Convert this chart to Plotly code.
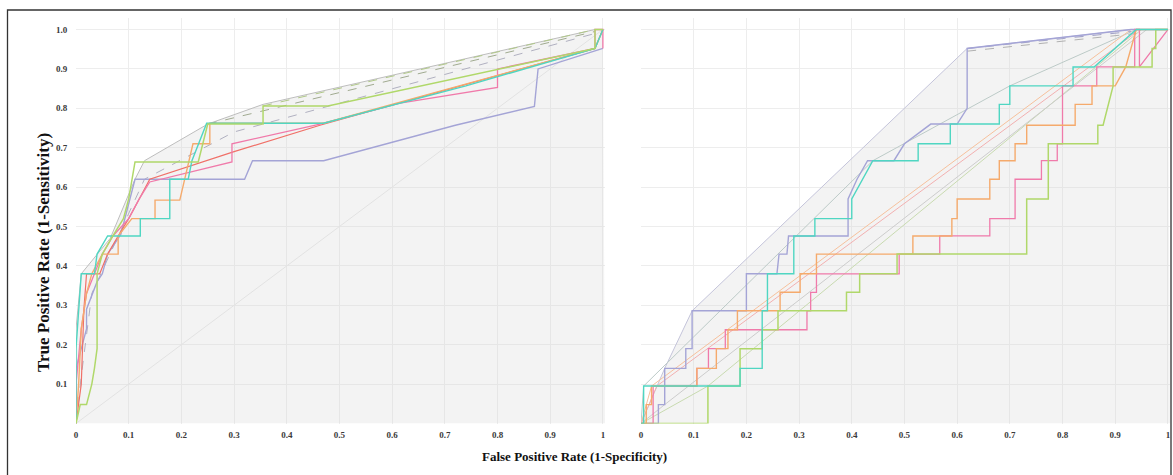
import plotly.graph_objects as go

W, H = 1173, 475

# ---------------- tick labels ----------------
x_ticks = [0, 0.1, 0.2, 0.3, 0.4, 0.5, 0.6, 0.7, 0.8, 0.9, 1.0]
x_tick_text = ["0", "0.1", "0.2", "0.3", "0.4", "0.5", "0.6", "0.7", "0.8", "0.9", "1"]
y_ticks = [0.1, 0.2, 0.3, 0.4, 0.5, 0.6, 0.7, 0.8, 0.9, 1.0]
y_tick_text = ["0.1", "0.2", "0.3", "0.4", "0.5", "0.6", "0.7", "0.8", "0.9", "1.0"]

# ---------------- left panel (FPR, TPR) ----------------
L_lavender_x = [0, 0, 0.02, 0.02, 0.04, 0.05, 0.06, 0.085, 0.112, 0.32, 0.335, 0.47, 0.72, 0.87, 0.877, 1.0]
L_lavender_y = [0, 0.14, 0.24, 0.29, 0.36, 0.38, 0.43, 0.48, 0.62, 0.62, 0.667, 0.667, 0.757, 0.805, 0.9, 0.952]

L_teal_x = [0, 0, 0.01, 0.035, 0.04, 0.06, 0.122, 0.122, 0.178, 0.178, 0.213, 0.22, 0.248, 0.47, 0.74, 0.985, 1.0]
L_teal_y = [0, 0.19, 0.38, 0.38, 0.43, 0.476, 0.476, 0.52, 0.52, 0.62, 0.62, 0.667, 0.762, 0.762, 0.857, 0.952, 1.0]

L_orange_x = [0, 0.005, 0.01, 0.02, 0.03, 0.05, 0.08, 0.08, 0.106, 0.15, 0.15, 0.197, 0.222, 0.254, 0.254, 0.47, 0.985, 1.0]
L_orange_y = [0, 0.1, 0.24, 0.33, 0.38, 0.43, 0.43, 0.476, 0.52, 0.52, 0.567, 0.567, 0.71, 0.71, 0.762, 0.762, 0.952, 1.0]

L_pink_x = [0, 0, 0.01, 0.02, 0.035, 0.05, 0.07, 0.1, 0.12, 0.14, 0.296, 0.296, 0.463, 0.615, 0.8, 0.8, 0.985, 0.985, 1.0, 1.0]
L_pink_y = [0, 0.1, 0.24, 0.33, 0.38, 0.43, 0.476, 0.52, 0.57, 0.613, 0.664, 0.71, 0.76, 0.813, 0.853, 0.9, 0.952, 1.0, 1.0, 0.952]

L_red_x = [0, 0.01, 0.015, 0.02, 0.045, 0.06, 0.08, 0.1, 0.12, 0.14, 0.3, 0.463, 0.985, 1.0]
L_red_y = [0, 0.1, 0.29, 0.38, 0.38, 0.43, 0.476, 0.52, 0.57, 0.62, 0.69, 0.757, 0.952, 1.0]

L_lime_x = [0, 0.008, 0.02, 0.03, 0.035, 0.04, 0.04, 0.05, 0.07, 0.09, 0.1, 0.112, 0.232, 0.25, 0.355, 0.355, 0.478, 0.985, 0.985, 1.0]
L_lime_y = [0, 0.048, 0.048, 0.1, 0.14, 0.19, 0.38, 0.43, 0.476, 0.52, 0.57, 0.664, 0.664, 0.76, 0.76, 0.806, 0.806, 0.952, 1.0, 1.0]

L_hull_x = [0, 0, 0.01, 0.065, 0.112, 0.13, 0.25, 0.355, 0.985, 1.0]
L_hull_y = [0, 0.24, 0.38, 0.47, 0.62, 0.667, 0.76, 0.81, 1.0, 1.0]

L_dash1_x = [0.25, 0.985]
L_dash1_y = [0.76, 0.995]
L_dash2_x = [0.355, 0.985]
L_dash2_y = [0.806, 1.0]
L_dash3_x = [0, 0.01, 0.03, 0.13, 0.3, 0.985]
L_dash3_y = [0, 0.12, 0.33, 0.62, 0.74, 0.99]

L_diag_x = [0, 1]
L_diag_y = [0, 1]

# ---------------- right panel (FPR, TPR) ----------------
R_lavender_x = [0, 0.033, 0.033, 0.045, 0.045, 0.085, 0.085, 0.097, 0.097, 0.2, 0.2, 0.258, 0.262, 0.277, 0.28, 0.393, 0.393, 0.41, 0.43, 0.48, 0.5, 0.55, 0.6, 0.619, 0.619, 0.93, 1.0]
R_lavender_y = [0, 0, 0.048, 0.048, 0.14, 0.14, 0.19, 0.19, 0.286, 0.286, 0.38, 0.38, 0.43, 0.43, 0.476, 0.476, 0.57, 0.62, 0.667, 0.667, 0.71, 0.76, 0.76, 0.8, 0.952, 1.0, 1.0]

R_teal_x = [0, 0.005, 0.005, 0.188, 0.188, 0.23, 0.23, 0.24, 0.24, 0.29, 0.29, 0.33, 0.33, 0.4, 0.4, 0.42, 0.44, 0.526, 0.526, 0.587, 0.587, 0.68, 0.68, 0.7, 0.7, 0.82, 0.82, 0.86, 0.94, 1.0]
R_teal_y = [0, 0, 0.095, 0.095, 0.14, 0.14, 0.286, 0.286, 0.38, 0.38, 0.476, 0.476, 0.52, 0.52, 0.57, 0.62, 0.667, 0.667, 0.71, 0.71, 0.76, 0.76, 0.81, 0.81, 0.857, 0.857, 0.905, 0.905, 1.0, 1.0]

R_orange_x = [0, 0.01, 0.01, 0.02, 0.02, 0.106, 0.106, 0.143, 0.143, 0.165, 0.165, 0.183, 0.183, 0.264, 0.264, 0.302, 0.302, 0.333, 0.333, 0.516, 0.516, 0.59, 0.59, 0.6, 0.6, 0.662, 0.662, 0.68, 0.68, 0.71, 0.71, 0.732, 0.732, 0.824, 0.824, 0.856, 0.856, 0.9, 0.92, 0.94, 1.0]
R_orange_y = [0, 0, 0.048, 0.048, 0.095, 0.095, 0.14, 0.14, 0.19, 0.19, 0.238, 0.238, 0.286, 0.286, 0.333, 0.333, 0.38, 0.38, 0.43, 0.43, 0.476, 0.476, 0.52, 0.52, 0.57, 0.57, 0.62, 0.62, 0.667, 0.667, 0.71, 0.71, 0.757, 0.757, 0.81, 0.81, 0.857, 0.857, 0.905, 1.0, 1.0]

R_pink_x = [0, 0.023, 0.023, 0.106, 0.106, 0.128, 0.128, 0.16, 0.16, 0.23, 0.23, 0.315, 0.315, 0.322, 0.322, 0.333, 0.333, 0.365, 0.365, 0.49, 0.49, 0.567, 0.567, 0.662, 0.662, 0.71, 0.71, 0.76, 0.76, 0.79, 0.79, 0.8, 0.8, 0.865, 0.865, 0.937, 0.937, 0.946, 0.946, 1.0]
R_pink_y = [0, 0, 0.095, 0.095, 0.14, 0.14, 0.19, 0.19, 0.238, 0.238, 0.238, 0.238, 0.286, 0.286, 0.333, 0.333, 0.38, 0.38, 0.38, 0.38, 0.43, 0.43, 0.476, 0.476, 0.52, 0.52, 0.62, 0.62, 0.667, 0.667, 0.71, 0.71, 0.857, 0.857, 0.905, 0.905, 1.0, 1.0, 0.905, 1.0]

R_lime_x = [0, 0.127, 0.127, 0.188, 0.188, 0.23, 0.23, 0.26, 0.26, 0.39, 0.39, 0.415, 0.415, 0.486, 0.486, 0.732, 0.732, 0.773, 0.773, 0.867, 0.867, 0.877, 0.896, 0.896, 0.97, 0.97, 0.977, 0.977, 1.0]
R_lime_y = [0, 0, 0.095, 0.095, 0.19, 0.19, 0.238, 0.238, 0.286, 0.286, 0.333, 0.333, 0.38, 0.38, 0.43, 0.43, 0.57, 0.57, 0.71, 0.71, 0.757, 0.757, 0.857, 0.905, 0.905, 0.952, 0.952, 1.0, 1.0]

R_hull_lav_x = [0, 0.045, 0.097, 0.619, 0.93, 1.0]
R_hull_lav_y = [0, 0.14, 0.286, 0.952, 1.0, 1.0]
R_hull_teal_x = [0, 0.005, 0.44, 0.7, 0.94]
R_hull_teal_y = [0, 0.095, 0.667, 0.857, 1.0]
R_hull_orange_x = [0, 0.02, 0.93]
R_hull_orange_y = [0, 0.095, 1.0]
R_hull_pink_x = [0, 0.03, 0.937]
R_hull_pink_y = [0, 0.095, 0.99]
R_hull_lime_x = [0, 0.127, 0.95]
R_hull_lime_y = [0, 0.095, 1.0]
R_hull_grey_x = [0, 0.045, 0.96]
R_hull_grey_y = [0, 0.048, 1.0]
R_dash_x = [0.619, 0.93]
R_dash_y = [0.952, 0.995]
R_dash2_x = [0.619, 0.94]
R_dash2_y = [0.945, 0.99]

# ---------------- styling ----------------
C_LAV = "#a4a4d6"
C_TEAL = "#4fd6c2"
C_ORANGE = "#f5aa6c"
C_PINK = "#f07aaa"
C_RED = "#f07068"
C_LIME = "#b0d86a"
C_GREY = "#bdbdbd"
FILL = "rgba(215,215,215,0.3)"
SERIF = "Liberation Serif, Times New Roman, serif"

fig = go.Figure()


def add(x, y, color, width=1.4, dash="solid", axis="1", fill=None, fillcolor=None):
    xa = "x" if axis == "1" else "x2"
    ya = "y" if axis == "1" else "y2"
    fig.add_trace(go.Scatter(
        x=x, y=y, mode="lines", xaxis=xa, yaxis=ya,
        line=dict(color=color, width=width, dash=dash),
        fill=fill, fillcolor=fillcolor, hoverinfo="skip", showlegend=False,
    ))


# fills (area under outer envelope)
add(L_hull_x + [1.004, 0], L_hull_y + [0, 0], "rgba(0,0,0,0)", 0, axis="1", fill="toself", fillcolor=FILL)
add(R_hull_lav_x + [1.004, 0], R_hull_lav_y + [0, 0], "rgba(0,0,0,0)", 0, axis="2", fill="toself", fillcolor=FILL)

# left panel lines
add(L_diag_x, L_diag_y, "#e2e2e2", 1.0, axis="1")
add(L_hull_x, L_hull_y, C_GREY, 1.0, axis="1")
add(L_dash3_x, L_dash3_y, "#b0b0c0", 1.0, dash="dash", axis="1")
add(L_dash1_x, L_dash1_y, "#a0aa90", 1.0, dash="dash", axis="1")
add(L_dash2_x, L_dash2_y, "#b0c888", 1.0, dash="dash", axis="1")
add(L_lavender_x, L_lavender_y, C_LAV, 1.4, axis="1")
add(L_red_x, L_red_y, C_RED, 1.2, axis="1")
add(L_pink_x, L_pink_y, C_PINK, 1.3, axis="1")
add(L_orange_x, L_orange_y, C_ORANGE, 1.4, axis="1")
add(L_teal_x, L_teal_y, C_TEAL, 1.4, axis="1")
add(L_lime_x, L_lime_y, C_LIME, 1.5, axis="1")

# right panel lines
add(R_hull_lav_x, R_hull_lav_y, "#c4c4da", 1.0, axis="2")
add(R_hull_teal_x, R_hull_teal_y, "#bccac7", 1.0, axis="2")
add(R_hull_orange_x, R_hull_orange_y, "#f6c09c", 1.0, axis="2")
add(R_hull_pink_x, R_hull_pink_y, "#f2b0b0", 1.0, axis="2")
add(R_hull_lime_x, R_hull_lime_y, "#c8dab0", 1.0, axis="2")
add(R_hull_grey_x, R_hull_grey_y, "#cccccc", 1.0, axis="2")
add(R_dash_x, R_dash_y, "#a4a4c8", 1.1, dash="dash", axis="2")
add(R_dash2_x, R_dash2_y, "#b0b0b0", 1.0, dash="dash", axis="2")
add(R_lavender_x, R_lavender_y, C_LAV, 1.4, axis="2")
add(R_pink_x, R_pink_y, C_PINK, 1.3, axis="2")
add(R_orange_x, R_orange_y, C_ORANGE, 1.4, axis="2")
add(R_lime_x, R_lime_y, C_LIME, 1.5, axis="2")
add(R_teal_x, R_teal_y, C_TEAL, 1.4, axis="2")


# ---------------- layout ----------------
def px(xr):
    return xr / W


def py(yr):
    return (H - yr) / H


x1_dom = [px(76), px(605)]
x2_dom = [px(641), px(1170)]
y_dom = [py(423.5), py(17.7)]

tickfont = dict(family=SERIF, size=9, color="#3a3a3a", weight="bold")
xaxis_common = dict(
    range=[0, 1.004], tickvals=x_ticks, ticktext=x_tick_text, tickfont=tickfont,
    showgrid=True, gridcolor="#ededed", gridwidth=1, zeroline=False, showline=False,
    ticks="outside", ticklen=3, tickcolor="rgba(0,0,0,0)",
)
yaxis_common = dict(
    range=[0, 1.03], tickvals=y_ticks, showgrid=True, gridcolor="#ededed", gridwidth=1,
    zeroline=False, showline=False,
)

fig.update_layout(
    width=W, height=H,
    margin=dict(l=0, r=0, t=0, b=0, autoexpand=False),
    paper_bgcolor="white", plot_bgcolor="white",
    xaxis=dict(domain=x1_dom, anchor="y", **xaxis_common),
    yaxis=dict(domain=y_dom, anchor="x", ticktext=y_tick_text, tickfont=tickfont,
               ticks="outside", ticklen=6, tickcolor="rgba(0,0,0,0)", **yaxis_common),
    xaxis2=dict(domain=x2_dom, anchor="y2", **xaxis_common),
    yaxis2=dict(domain=y_dom, anchor="x2", showticklabels=False, **yaxis_common),
    annotations=[
        dict(text="<b>True Positive Rate (1-Sensitivity)</b>", xref="paper", yref="paper",
             x=px(44), y=py(253), xanchor="center", yanchor="middle", textangle=-90,
             showarrow=False, font=dict(family=SERIF, size=17, color="#111")),
        dict(text="<b>False Positive Rate (1-Specificity)</b>", xref="paper", yref="paper",
             x=px(574), y=py(456), xanchor="center", yanchor="middle", showarrow=False,
             font=dict(family=SERIF, size=13, color="#111")),
    ],
    shapes=[
        dict(type="rect", xref="paper", yref="paper", x0=px(7.5), x1=px(1171),
             y0=-0.05, y1=py(10), line=dict(color="#333", width=1.3), layer="above"),
    ],
)

fig.write_html(
    "out.html",
    config={"displayModeBar": False},
    post_script="document.body.style.margin='0';document.body.style.overflow='hidden';",
)
